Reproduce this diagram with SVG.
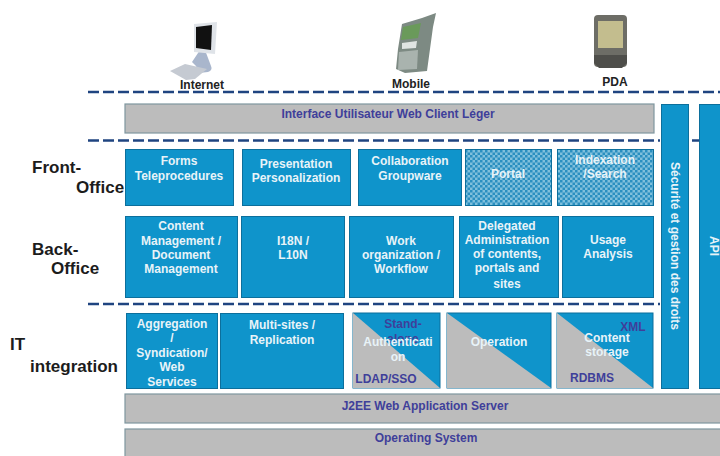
<svg xmlns="http://www.w3.org/2000/svg" width="720" height="456" viewBox="0 0 720 456">
<style>
text{font-family:"Liberation Sans",Arial,sans-serif;font-weight:bold;text-anchor:middle}
.w{fill:#e8f3f8;font-size:12px}
.b{fill:#3f3f9a;font-size:12px}
.k{fill:#222;font-size:12px}
.h{fill:#1c1c1c;font-size:17px;font-weight:bold}
.box{fill:#0f94cb;stroke:#0c6f9c;stroke-width:1}
.gray{fill:#bcbcbc;stroke:#7f979f;stroke-width:1.2}
.tri{fill:#bcbcbc}
.dash{stroke:#1f4480;stroke-width:2.6;stroke-dasharray:11 4;fill:none}
</style>
<defs>
<pattern id="chk" width="5" height="5" patternUnits="userSpaceOnUse">
<rect width="5" height="5" fill="#7fc0dc"/>
<rect width="2.5" height="2.5" fill="#2a8fc0"/>
<rect x="2.5" y="2.5" width="2.5" height="2.5" fill="#2a8fc0"/>
</pattern>
</defs>
<rect width="720" height="456" fill="#fff"/>
<g id="connectors">
<path class="dash" d="M88 92H720"/>
<path class="dash" d="M88 140.500H660M692 140.500H699"/>
<path class="dash" d="M88 304H660"/>
</g>
<g id="icon-internet">
<path d="M196 66l-4 -4l8 -12l5 0l6 16q2 4 -3 6l-9 1z" fill="#a9b6cc"/>
<path d="M170 71l15 -7l22 5l-12 10l-9 1z" fill="#c5cad2"/>
<path d="M194 24l23 -2l-2 32l-21 -2z" fill="#dfe3e8"/>
<path d="M196 27l16 -2l-1 25l-15 -2z" fill="#111"/>
</g>
<g id="icon-mobile">
<path d="M402 24l20 -6l14 -5l-3 14l-6 44l-22 2l-9 -4l2 -20z" fill="#7d8a83"/>
<path d="M403 27l18 -4l-3 15l-17 2z" fill="#6a9a5a"/>
<path d="M402 43l15 -2l-1 7l-14 1z" fill="#e0e4e2"/>
<path d="M399 52l19 -2l-1 19l-19 1z" fill="#a9b3ae"/>
</g>
<g id="icon-pda">
<rect x="594" y="15" width="33" height="52" rx="4" fill="#6d6d66"/>
<rect x="598" y="21" width="25" height="27" fill="#c3bd8e"/>
<path d="M594 55h33v8l-5 5h-23l-5 -5z" fill="#4e4e4a"/>
</g>
<g id="node-internet-label"><text class="k" x="202" y="89">Internet</text></g>
<g id="node-mobile-label"><text class="k" x="411" y="88">Mobile</text></g>
<g id="node-pda-label"><text class="k" x="615" y="86">PDA</text></g>

<g id="label-front"><text class="h" x="60" y="173" style="text-anchor:start" dx="-28">Front-</text><text class="h" x="100" y="193">Office</text></g>
<g id="label-back"><text class="h" x="32" y="255" style="text-anchor:start">Back-</text><text class="h" x="75" y="274">Office</text></g>
<g id="label-it"><text class="h" x="10" y="350" style="text-anchor:start">IT</text><text class="h" x="74" y="372">integration</text></g>

<g id="ui-layer"><rect class="gray" x="125" y="104" width="529" height="29"/><text class="b" x="388" y="118">Interface Utilisateur Web Client Léger</text></g>

<g id="forms"><rect class="box" x="125.500" y="149.500" width="108" height="56"/><text class="w" x="179" y="165">Forms</text><text class="w" x="179" y="180">Teleprocedures</text></g>
<g id="presentation"><rect class="box" x="242.500" y="149.500" width="108" height="56"/><text class="w" x="296" y="168">Presentation</text><text class="w" x="296" y="182">Personalization</text></g>
<g id="collaboration"><rect class="box" x="358.500" y="149.500" width="103" height="56"/><text class="w" x="410" y="165">Collaboration</text><text class="w" x="410" y="180">Groupware</text></g>
<g id="portal"><rect x="465.500" y="149.500" width="86" height="56" fill="url(#chk)" stroke="#0c6f9c"/><text class="w" x="508" y="178">Portal</text></g>
<g id="indexation"><rect x="557.500" y="149.500" width="96" height="56" fill="url(#chk)" stroke="#0c6f9c"/><text class="w" x="605" y="164">Indexation</text><text class="w" x="605" y="178">/Search</text></g>

<g id="content"><rect class="box" x="125.500" y="216.500" width="112" height="81"/><text class="w" x="181" y="230">Content</text><text class="w" x="181" y="245">Management /</text><text class="w" x="181" y="259">Document</text><text class="w" x="181" y="273">Management</text></g>
<g id="i18n"><rect class="box" x="241.500" y="216.500" width="103" height="81"/><text class="w" x="293" y="245">I18N /</text><text class="w" x="293" y="259">L10N</text></g>
<g id="work"><rect class="box" x="349.500" y="216.500" width="104" height="81"/><text class="w" x="401" y="245">Work</text><text class="w" x="401" y="259">organization /</text><text class="w" x="401" y="273">Workflow</text></g>
<g id="delegated"><rect class="box" x="459.500" y="216.500" width="99" height="81"/><text class="w" x="507" y="230">Delegated</text><text class="w" x="507" y="244">Administration</text><text class="w" x="507" y="258">of contents,</text><text class="w" x="507" y="272">portals and</text><text class="w" x="507" y="288">sites</text></g>
<g id="usage"><rect class="box" x="562.500" y="216.500" width="91" height="81"/><text class="w" x="608" y="244">Usage</text><text class="w" x="608" y="258">Analysis</text></g>

<g id="aggregation"><rect class="box" x="126.500" y="313.500" width="91" height="75"/><text class="w" x="172" y="328">Aggregation</text><text class="w" x="172" y="342">/</text><text class="w" x="172" y="357">Syndication/</text><text class="w" x="172" y="371">Web</text><text class="w" x="172" y="386">Services</text></g>
<g id="multisites"><rect class="box" x="220.500" y="313.500" width="123" height="75"/><text class="w" x="282" y="329">Multi-sites /</text><text class="w" x="282" y="344">Replication</text></g>
<g id="authentication"><rect class="box" x="353" y="313" width="87" height="75"/><path class="tri" d="M353 313L440 388H353z"/><text class="b" x="403" y="328">Stand-</text><text class="b" x="403" y="343">alone</text><text class="w" x="398" y="346">Authenticati</text><text class="w" x="398" y="361">on</text><text class="b" x="386" y="383">LDAP/SSO</text></g>
<g id="operation"><rect class="box" x="447" y="313" width="104" height="75"/><path class="tri" d="M447 313L551 388H447z"/><text class="w" x="499" y="346">Operation</text></g>
<g id="storage"><rect class="box" x="557" y="313" width="96" height="75"/><path class="tri" d="M557 313L653 388H557z"/><text class="b" x="633" y="331">XML</text><text class="w" x="607" y="342">Content</text><text class="w" x="607" y="356">storage</text><text class="b" x="592" y="382">RDBMS</text></g>

<g id="security"><rect class="box" x="661.500" y="104.500" width="27" height="284"/><text class="w" transform="translate(671 246) rotate(90)">Sécurité et gestion des droits</text></g>
<g id="api"><rect class="box" x="699.500" y="104.500" width="22" height="284"/><text class="w" transform="translate(710 246) rotate(90)">API</text></g>
<g id="j2ee"><rect class="gray" x="125" y="394" width="597" height="29"/><text class="b" x="425" y="410">J2EE Web Application Server</text></g>
<g id="os"><rect class="gray" x="125" y="429" width="597" height="29"/><text class="b" x="426" y="442">Operating System</text></g>
</svg>
